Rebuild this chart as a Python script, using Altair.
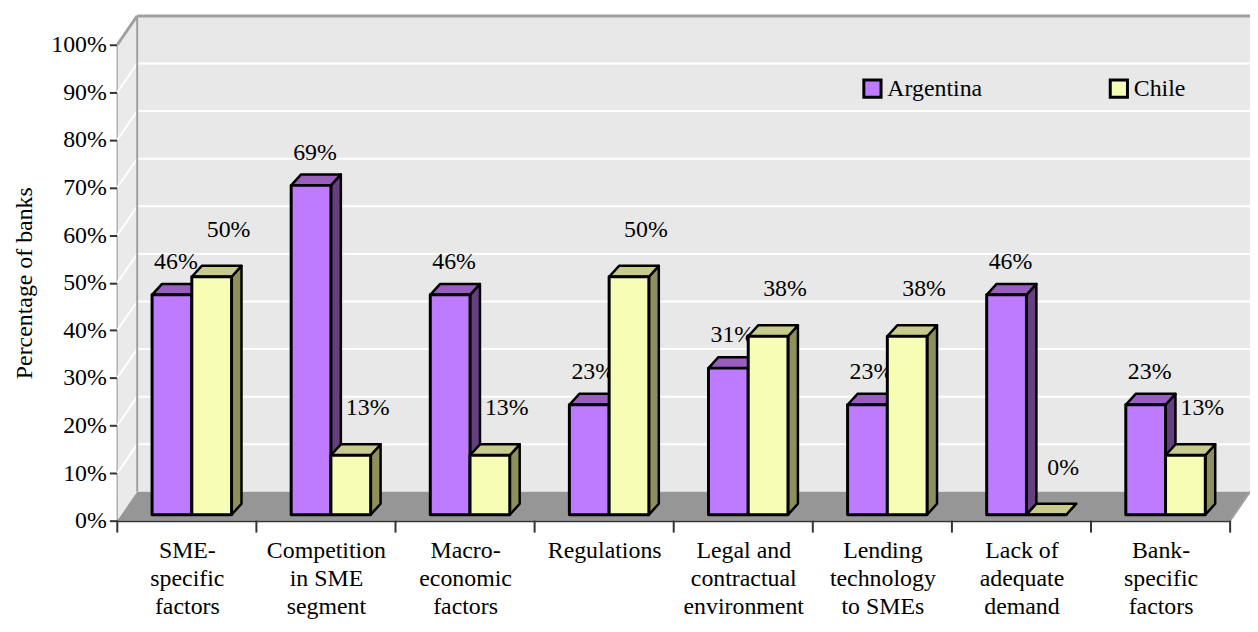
import json
import altair as alt
import pandas as pd

# ---------------- data ----------------
categories = [
    "SME-specific factors",
    "Competition in SME segment",
    "Macro-economic factors",
    "Regulations",
    "Legal and contractual environment",
    "Lending technology to SMEs",
    "Lack of adequate demand",
    "Bank-specific factors",
]
category_lines = [
    ["SME-", "specific", "factors"],
    ["Competition", "in SME", "segment"],
    ["Macro-", "economic", "factors"],
    ["Regulations"],
    ["Legal and", "contractual", "environment"],
    ["Lending", "technology", "to SMEs"],
    ["Lack of", "adequate", "demand"],
    ["Bank-", "specific", "factors"],
]
series = ["Argentina", "Chile"]
argentina = [46.2, 69.2, 46.2, 23.1, 30.8, 23.1, 46.2, 23.1]
chile = [50.0, 12.5, 12.5, 50.0, 37.5, 37.5, 0.0, 12.5]
y_ticks = [0, 10, 20, 30, 40, 50, 60, 70, 80, 90, 100]

# ---------------- layout / style ----------------
FONT = "Liberation Serif"
FS = 24
W, H = 1120, 479
N = len(categories)
PXX = W / N
PXY = H / 100.0
WDX, WDY = 20 / PXX, 29 / PXY          # depth of floor and walls
PAIR_START = 30 / PXX
BAR_W = 40 / PXX
FRONT_DX, FRONT_DY = 5 / PXX, 6 / PXY  # bars stand a little behind the front edge
BDX, BDY = 10 / PXX, 11 / PXY          # bar depth
face_colors = {
    "Argentina": {"front": "#BF7BFF", "top": "#9A5FBE", "side": "#66407E"},
    "Chile": {"front": "#F8FDB6", "top": "#C9CB8D", "side": "#8F8F5C"},
}
label_shift = {"Argentina": (4, -33), "Chile": (17, -47)}

xs = alt.Scale(domain=[0, N], nice=False, zero=False)
ys = alt.Scale(domain=[0, 100], nice=False, zero=False)

y_axis = alt.Axis(
    values=y_ticks, labelExpr="datum.value + '%'", grid=False,
    tickSize=8, tickWidth=2, tickColor="#333333",
    domainColor="#333333", domainWidth=2,
    labelFont=FONT, labelFontSize=FS, labelColor="black", labelPadding=3,
    title="Percentage of banks", titleFont=FONT, titleFontSize=FS,
    titleFontWeight="normal", titleColor="black", titlePadding=14,
)
x_axis = alt.Axis(
    values=[i + 0.5 for i in range(N)],
    labelExpr=json.dumps(category_lines) + "[floor(datum.value)]",
    ticks=False, grid=False, domainColor="#333333", domainWidth=2,
    labelFont=FONT, labelFontSize=FS, labelColor="black", labelLineHeight=28,
    labelPadding=18, labelOverlap=False, labelFlush=False, title=None,
)


def X(field):
    return alt.X(field, scale=xs, axis=x_axis)


def Y(field):
    return alt.Y(field, scale=ys, axis=y_axis)


# ---------------- geometry tables built from the data ----------------
values = {"Argentina": argentina, "Chile": chile}
front, top, side = [], [], []
for i, cat in enumerate(categories):
    for s, name in enumerate(series):
        v = values[name][i]
        bid = f"{i}-{name}"
        x0 = i + PAIR_START + FRONT_DX + s * BAR_W
        x1 = x0 + BAR_W
        yb = FRONT_DY
        yt = v + FRONT_DY
        front.append(dict(series=name, cat=cat, value=v, x0=x0, x1=x1, xc=(x0 + x1) / 2, yb=yb, yt=yt))
        top.append(dict(series=name, bid=bid, y=yt, xa=x0, xb=x1))
        top.append(dict(series=name, bid=bid, y=yt + BDY, xa=x0 + BDX, xb=x1 + BDX))
        side.append(dict(series=name, bid=bid, x=x1, ya=yb, yb2=yt))
        side.append(dict(series=name, bid=bid, x=x1 + BDX, ya=yb + BDY, yb2=yt + BDY))
front = pd.DataFrame(front)
top = pd.DataFrame(top)
side = pd.DataFrame(side)

# walls, floor, grid
back_wall = pd.DataFrame([dict(xa=WDX, xb=N + WDX, ya=WDY, yb=100 + WDY)])
left_wall = pd.DataFrame([dict(x=0, ya=0, yb=100), dict(x=WDX, ya=WDY, yb=100 + WDY)])
floor = pd.DataFrame([dict(y=0, xa=0, xb=N), dict(y=WDY, xa=WDX, xb=N + WDX)])
grid_back = pd.DataFrame([dict(xa=WDX, xb=N + WDX, y=v + WDY) for v in y_ticks[1:]])
grid_left = pd.DataFrame([dict(xa=0, xb=WDX, ya=v, yb=v + WDY) for v in y_ticks[1:]])
edges = pd.DataFrame([
    dict(xa=0, xb=WDX, ya=100, yb=100 + WDY, w=3),
    dict(xa=WDX, xb=N + WDX, ya=100 + WDY, yb=100 + WDY, w=3),
    dict(xa=WDX, xb=WDX, ya=WDY, yb=100 + WDY, w=2),
    dict(xa=N, xb=N + WDX, ya=0, yb=WDY, w=2),
])
cat_ticks = pd.DataFrame([dict(b=b, y0=0) for b in range(N + 1)])

# ---------------- layers ----------------
wall = alt.Chart(back_wall).mark_rect(fill="#E8E8E8").encode(
    x=X("xa:Q"), x2="xb:Q", y=Y("ya:Q"), y2="yb:Q",
)
lwall = alt.Chart(left_wall).mark_area(fill="#EAEAEA", orient="vertical").encode(
    x=X("x:Q"), y=Y("ya:Q"), y2="yb:Q",
)
gback = alt.Chart(grid_back).mark_rule(color="white", strokeWidth=2).encode(
    x=X("xa:Q"), x2="xb:Q", y=Y("y:Q"),
)
gleft = alt.Chart(grid_left).mark_rule(color="white", strokeWidth=2).encode(
    x=X("xa:Q"), x2="xb:Q", y=Y("ya:Q"), y2="yb:Q",
)
flr = alt.Chart(floor).mark_area(fill="#969696", orient="horizontal").encode(
    y=Y("y:Q"), x=X("xa:Q"), x2="xb:Q",
)
edge = alt.Chart(edges).mark_rule(color="#A0A0A0").encode(
    x=X("xa:Q"), x2="xb:Q", y=Y("ya:Q"), y2="yb:Q",
    strokeWidth=alt.StrokeWidth("w:Q", scale=None),
)
ticks = alt.Chart(cat_ticks).mark_rule(color="#333333", strokeWidth=2, y2Offset=12).encode(
    x=X("b:Q"), y=Y("y0:Q"), y2="y0:Q",
)

layers = [wall, lwall, gback, gleft, flr, edge, ticks]

for name in series:
    c = face_colors[name]
    sd = side[side.series == name]
    tp = top[top.series == name]
    fr = front[front.series == name]
    layers.append(
        alt.Chart(sd).mark_area(orient="vertical", fill=c["side"], stroke="black", strokeWidth=2.5, strokeJoin="round").encode(
            x=X("x:Q"), y=Y("ya:Q"), y2="yb2:Q", detail="bid:N",
        )
    )
    layers.append(
        alt.Chart(tp).mark_area(orient="horizontal", fill=c["top"], stroke="black", strokeWidth=2.5, strokeJoin="round").encode(
            y=Y("y:Q"), x=X("xa:Q"), x2="xb:Q", detail="bid:N",
        )
    )
    layers.append(
        alt.Chart(fr).mark_rect(stroke="black", strokeWidth=3, opacity=1, strokeJoin="round").encode(
            x=X("x0:Q"), x2="x1:Q", y=Y("yb:Q"), y2="yt:Q",
            color=alt.Color(
                "series:N",
                scale=alt.Scale(domain=series, range=[face_colors[s]["front"] for s in series]),
                legend=alt.Legend(
                    title=None, orient="none", legendX=748, legendY=32,
                    direction="horizontal", symbolType="square", symbolSize=300,
                    symbolStrokeColor="black", symbolStrokeWidth=3, symbolOpacity=1,
                    labelFont=FONT, labelFontSize=FS, labelColor="black",
                    labelOffset=3, columnPadding=122, padding=0,
                ),
            ),
        )
    )
    dx, dy = label_shift[name]
    layers.append(
        alt.Chart(fr).mark_text(font=FONT, fontSize=FS, color="black", dx=dx, dy=dy, baseline="middle").encode(
            x=X("xc:Q"), y=Y("yt:Q"), text="label:N",
        ).transform_calculate(label="round(datum.value) + '%'")
    )

chart = alt.layer(*layers).properties(
    width=W, height=H,
    autosize=alt.AutoSizeParams(type="none"),
    padding={"left": 110, "top": 35, "right": 20, "bottom": 100},
    background="white",
).configure_view(stroke=None).configure(font=FONT)

chart.save("out.html", embed_options={"renderer": "svg", "actions": False})
